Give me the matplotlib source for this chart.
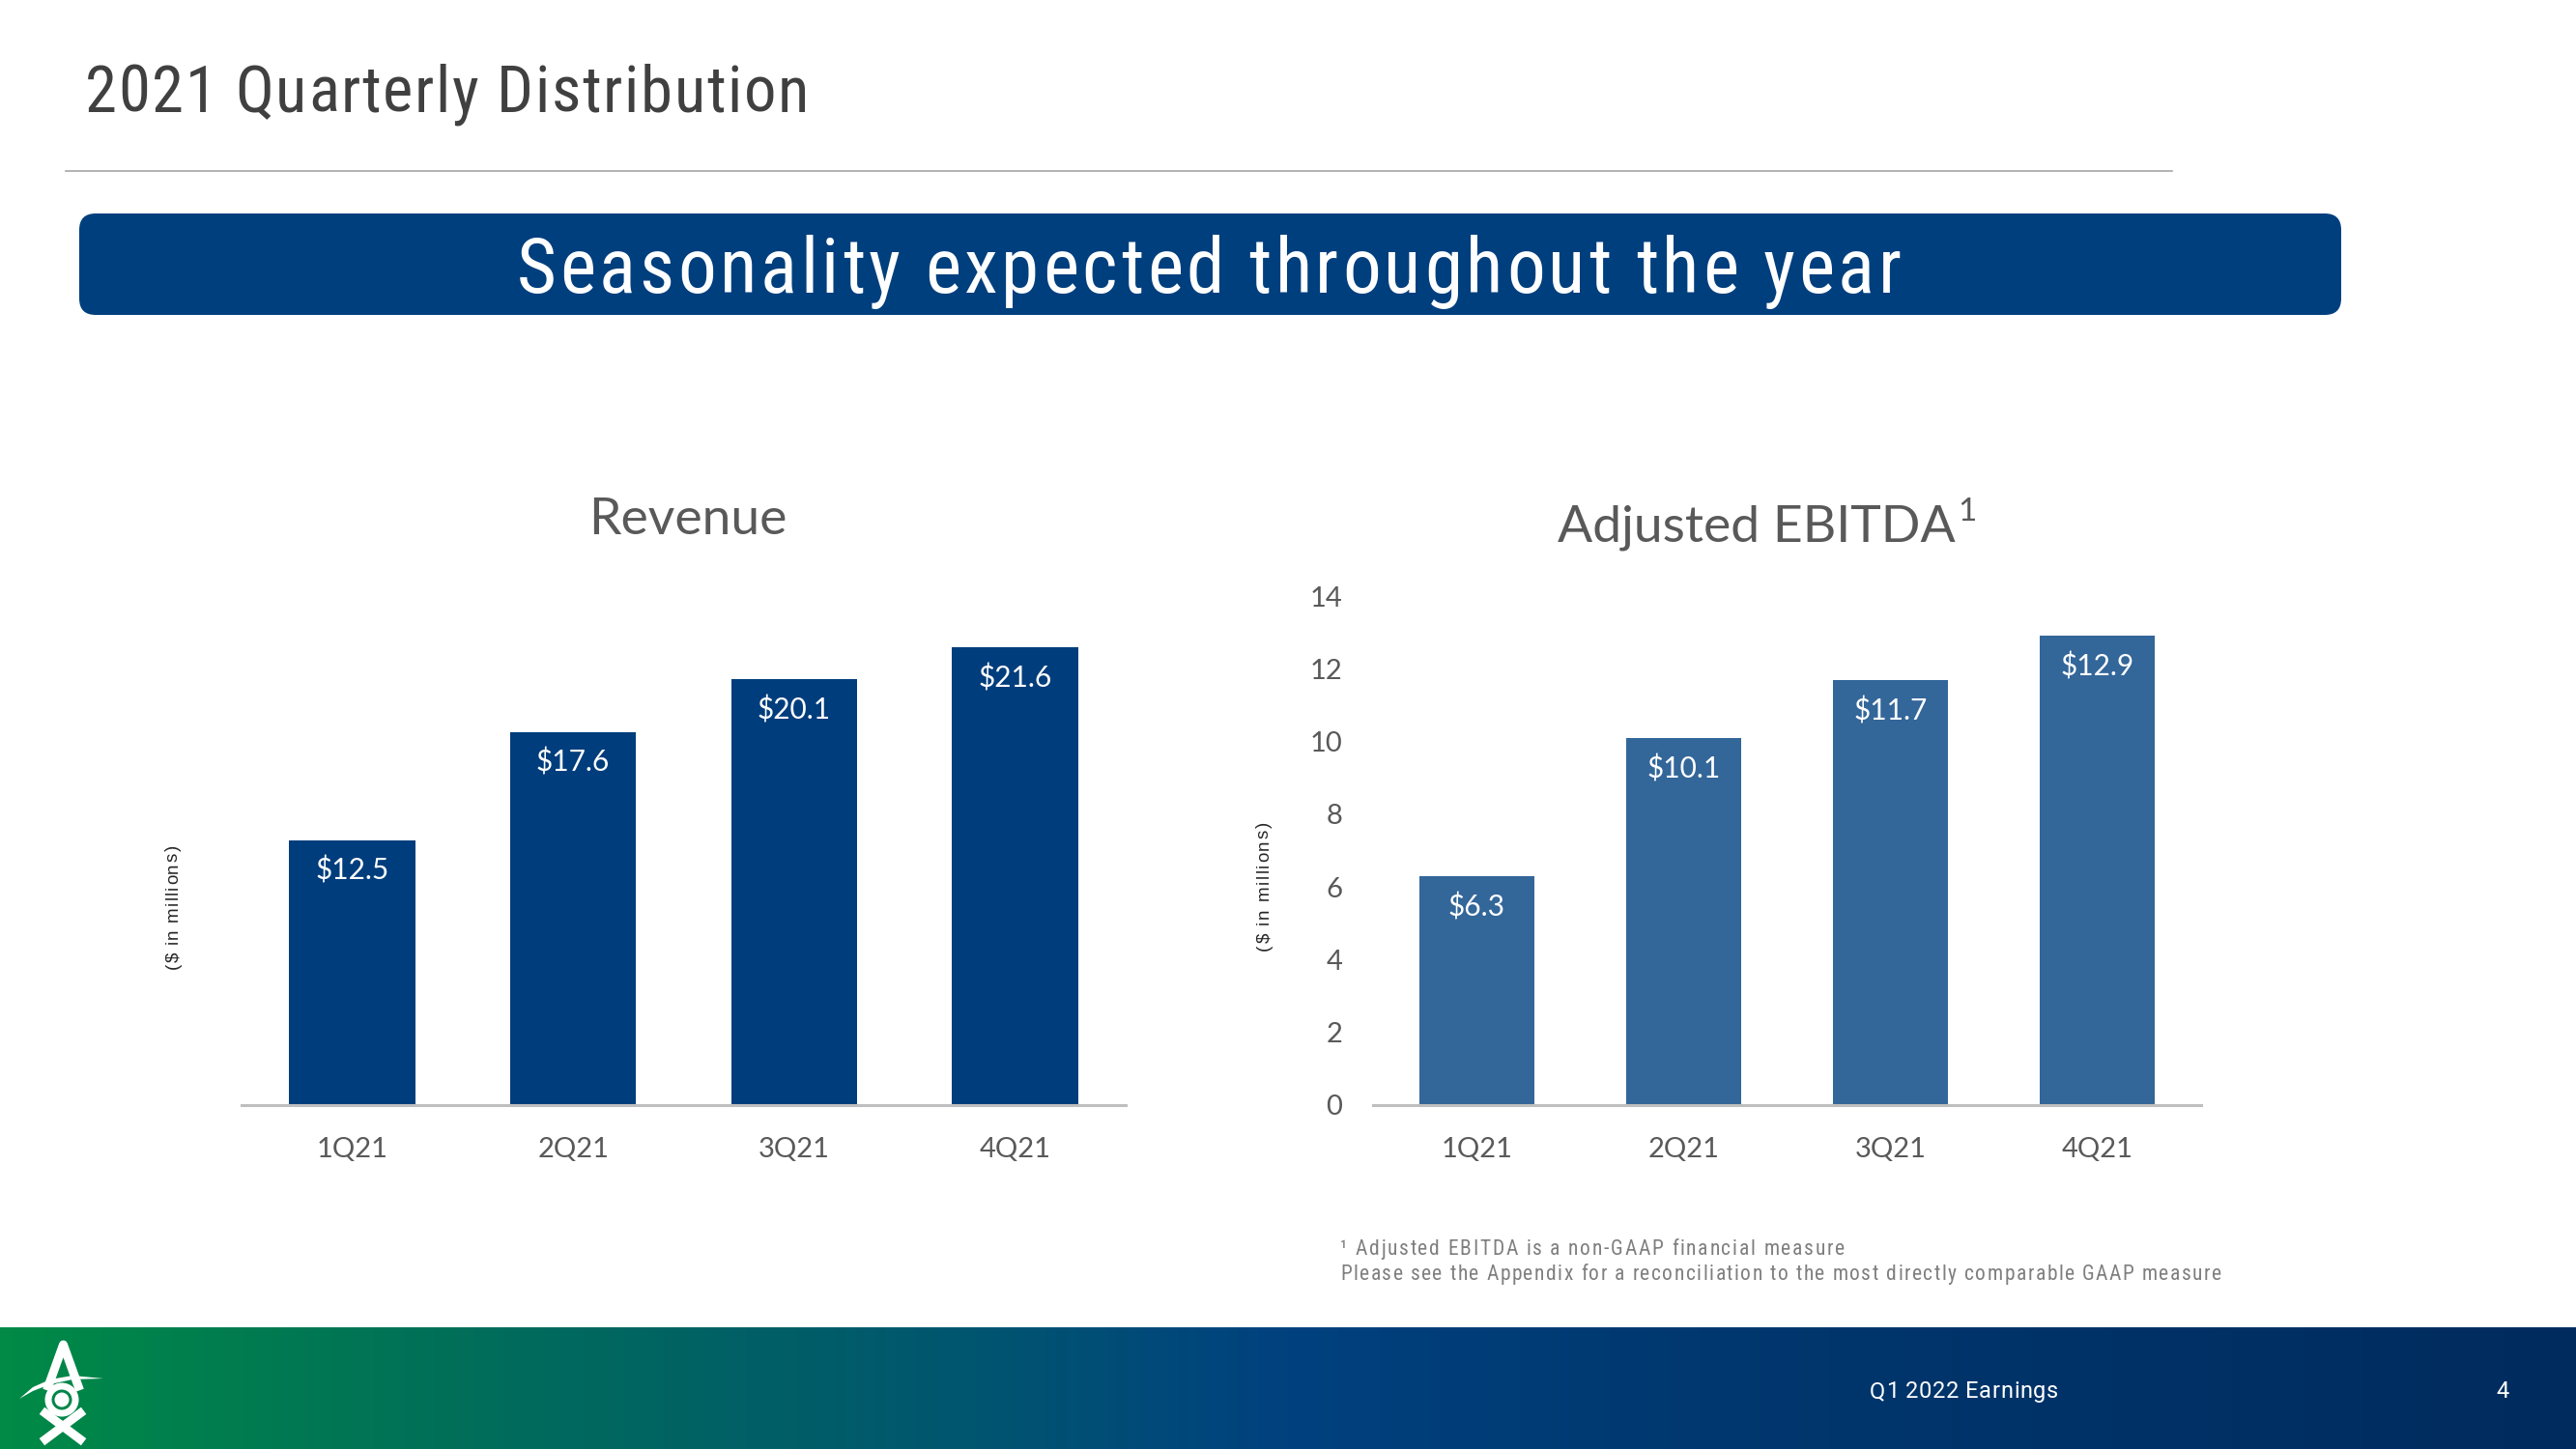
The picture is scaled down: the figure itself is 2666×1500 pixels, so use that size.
import numpy as np
import matplotlib
matplotlib.use("Agg")
import matplotlib.pyplot as plt
from matplotlib import font_manager as fm
from matplotlib.ft2font import FT2Font
from matplotlib.patches import FancyBboxPatch, Circle, Polygon
from matplotlib.colors import LinearSegmentedColormap

try:
    from matplotlib.ft2font import LoadFlags
    NOHINT = LoadFlags.NO_HINTING
except Exception:
    from matplotlib.ft2font import LOAD_NO_HINTING as NOHINT

# ---------------- data ----------------
quarters = ["1Q21", "2Q21", "3Q21", "4Q21"]
revenue = [12.5, 17.6, 20.1, 21.6]
ebitda = [6.3, 10.1, 11.7, 12.9]
ebitda_ticks = [0, 2, 4, 6, 8, 10, 12, 14]

page_title = "2021 Quarterly Distribution"
banner_text = "Seasonality expected throughout the year"
rev_title = "Revenue"
ebitda_title = "Adjusted EBITDA"
ylab = "($ in millions)"
foot1 = "\u00b9 Adjusted EBITDA is a non-GAAP financial measure"
foot2 = "Please see the Appendix for a reconciliation to the most directly comparable GAAP measure"
footer_text = "Q1 2022 Earnings"
page_no = "4"

# ---------------- fonts ----------------
names = {f.name for f in fm.fontManager.ttflist}


def path_of(family):
    return fm.findfont(fm.FontProperties(family=family))


def find_narrow():
    for p in ["Liberation Sans Narrow", "Arial Narrow", "Roboto Condensed",
              "Open Sans Condensed", "Noto Sans Condensed", "DejaVu Sans Condensed"]:
        if p in names:
            return path_of(p)
    for f in fm.fontManager.ttflist:
        st = str(f.stretch).lower()
        w = f.weight if isinstance(f.weight, int) else fm.weight_dict.get(str(f.weight), 400)
        if ("condensed" in st or "narrow" in f.name.lower()) and w == 400 \
                and f.style == "normal" and "mono" not in f.name.lower() \
                and "serif" not in f.name.lower().replace("sans", ""):
            return f.fname
    return path_of("Liberation Sans")


NARROW = find_narrow()
ARIAL = path_of("Liberation Sans")
CAL = path_of("Lato") if "Lato" in names else path_of("DejaVu Sans")
ROBOTO = path_of("Roboto") if "Roboto" in names else path_of("DejaVu Sans")


def fp(path, size):
    return fm.FontProperties(fname=path, size=size)


W, H = 2666, 1500
fig = plt.figure(figsize=(W / 100, H / 100), dpi=100)
fig.patch.set_facecolor("white")

bg = fig.add_axes([0, 0, 1, 1], zorder=0)
bg.set_xlim(0, W)
bg.set_ylim(H, 0)
bg.axis("off")


def char_advances(s, path, size):
    f = FT2Font(path)
    f.set_size(size, 100)
    return [f.load_char(ord(c), flags=NOHINT).linearHoriAdvance / 65536 for c in s]


def spaced(x, y, s, size, path, color, width=None, ha="left", rotation=0, zorder=5):
    adv = char_advances(s, path, size)
    n = len(s)
    base = sum(adv)
    sp = (width - base) / (n - 1) if (width and n > 1) else 0
    total = base + sp * (n - 1)
    th = np.deg2rad(rotation)
    dx, dy = np.cos(th), -np.sin(th)
    off = {"left": 0, "center": total / 2, "right": total}[ha]
    x0, y0 = x - off * dx, y - off * dy
    pos = 0.0
    prop = fp(path, size)
    for c, a in zip(s, adv):
        if c != " ":
            bg.text(x0 + pos * dx, y0 + pos * dy, c, fontproperties=prop,
                    color=color, rotation=rotation, rotation_mode="anchor",
                    ha="left", va="baseline", zorder=zorder)
        pos += a + sp


# ---------------- header ----------------
spaced(88, 116, page_title, 48, NARROW, "#404040", width=749)
bg.plot([68, 2248], [177, 177], color="#A6A6A6", lw=1.2, zorder=2)

box = FancyBboxPatch((82, 221), 2341, 105, boxstyle="round,pad=0,rounding_size=17",
                     facecolor="#003F7E", edgecolor="none", zorder=2)
bg.add_patch(box)
spaced(1251, 303, banner_text, 57, NARROW, "white", width=1433, ha="center")

# ---------------- footer ----------------
cmap = LinearSegmentedColormap.from_list("foot", [
    (0.0, "#008A46"), (0.2, "#006B5C"), (0.38, "#005570"),
    (0.5, "#00417F"), (0.66, "#00386F"), (1.0, "#002B5E")])
grad = np.linspace(0, 1, 600)[None, :]
bg.imshow(grad, extent=(0, W, H, 1374), aspect="auto", cmap=cmap,
          interpolation="bilinear", zorder=1)
bg.set_xlim(0, W)
bg.set_ylim(H, 0)

spaced(1935, 1447, footer_text, 17, ROBOTO, "white", width=195)
bg.text(2590, 1447, page_no, fontproperties=fp(ROBOTO, 17), color="white",
        ha="center", va="baseline", zorder=5)

# logo (decorative)
k = 0.72
bg.plot([50, 65.5, 81], [1435, 1392, 1435], color="white", lw=9 * k,
        solid_joinstyle="round", zorder=6)
bg.add_patch(Circle((64, 1449), 14, facecolor="none", edgecolor="white",
                    lw=7 * k, zorder=6))
bg.add_patch(Circle((64, 1449), 7.5, facecolor="white", edgecolor="none", zorder=6))
bg.plot([47, 83], [1463, 1490], color="white", lw=9 * k, zorder=6)
bg.plot([83, 47], [1463, 1490], color="white", lw=9 * k, zorder=6)
sw_top = [(20, 1448), (34, 1436), (52, 1428), (75, 1424), (107, 1427)]
sw_bot = [(75, 1428), (52, 1433), (34, 1440)]
bg.add_patch(Polygon(sw_top + sw_bot, closed=True, facecolor="white",
                     edgecolor="none", zorder=6))

# ---------------- charts ----------------
y_bot = 1144
y_top = 617
LEFT_COLOR = "#003D7C"
RIGHT_COLOR = "#336699"
TICK_COLOR = "#595959"


def frac_rect(x0, x1):
    return [x0 / W, 1 - y_bot / H, (x1 - x0) / W, (y_bot - y_top) / H]


def style(ax):
    ax.set_facecolor("none")
    for s in ["left", "right", "top"]:
        ax.spines[s].set_visible(False)
    ax.spines["bottom"].set_color("#BFBFBF")
    ax.spines["bottom"].set_linewidth(2.2)
    ax.tick_params(axis="x", length=0, pad=23.5, labelcolor=TICK_COLOR)
    for lab in ax.get_xticklabels():
        lab.set_fontproperties(fp(CAL, 21))


x = np.arange(len(quarters))

ax1 = fig.add_axes(frac_rect(250, 1165), zorder=3)
ax1.bar(x, revenue, width=0.57, color=LEFT_COLOR)
ax1.set_xlim(-0.5, 3.5)
ax1.set_ylim(0, 24)
ax1.set_yticks([])
ax1.set_xticks(x)
ax1.set_xticklabels(quarters)
style(ax1)
for xi, v in zip(x, revenue):
    ax1.annotate(f"${v:.1f}", (xi, v), xytext=(0, -23), textcoords="offset points",
                 ha="center", va="center", color="white", fontproperties=fp(CAL, 21.5))

ax2 = fig.add_axes(frac_rect(1421, 2278), zorder=3)
ax2.bar(x, ebitda, width=0.555, color=RIGHT_COLOR)
ax2.set_xlim(-0.5, 3.5)
ax2.set_ylim(0, 14)
ax2.set_xticks(x)
ax2.set_xticklabels(quarters)
ax2.set_yticks(ebitda_ticks)
ax2.set_yticklabels([str(t) for t in ebitda_ticks])
style(ax2)
ax2.tick_params(axis="y", length=0, pad=23, labelcolor=TICK_COLOR)
for lab in ax2.get_yticklabels():
    lab.set_fontproperties(fp(CAL, 21))
for xi, v in zip(x, ebitda):
    ax2.annotate(f"${v:.1f}", (xi, v), xytext=(0, -23), textcoords="offset points",
                 ha="center", va="center", color="white", fontproperties=fp(CAL, 21.5))

# chart titles
bg.text(712, 553, rev_title, fontproperties=fp(CAL, 38.5), color=TICK_COLOR,
        ha="center", va="baseline", zorder=5)
bg.text(2024, 561, ebitda_title, fontproperties=fp(CAL, 38.5), color=TICK_COLOR,
        ha="right", va="baseline", zorder=5)
bg.text(2026, 539, "1", fontproperties=fp(CAL, 24), color=TICK_COLOR,
        ha="left", va="baseline", zorder=5)

# y labels
spaced(184, 939, ylab, 13.5, ARIAL, "#262626", width=128, ha="center", rotation=90)
spaced(1313, 917, ylab, 13.5, ARIAL, "#262626", width=133, ha="center", rotation=90)

# footnotes
spaced(1387, 1299, foot1, 15.5, NARROW, "#7F7F7F", width=522)
spaced(1387, 1325, foot2, 15.5, NARROW, "#7F7F7F", width=912)

fig.savefig("out.png", dpi=100, facecolor="white")
